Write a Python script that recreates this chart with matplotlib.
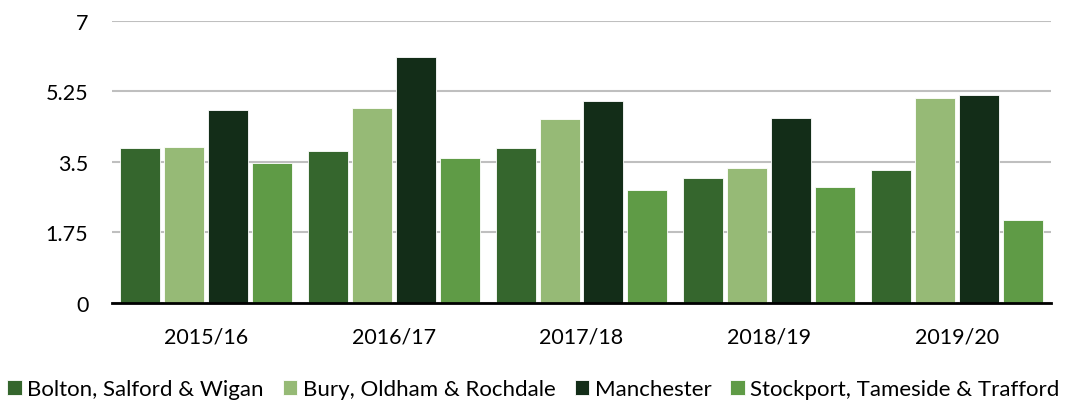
import matplotlib
matplotlib.use("Agg")
import matplotlib.pyplot as plt
import numpy as np

plt.rcParams['font.family'] = ['Lato', 'DejaVu Sans']

years = ['2015/16', '2016/17', '2017/18', '2018/19', '2019/20']
bolton = [3.84, 3.76, 3.84, 3.10, 3.31]
bury = [3.87, 4.84, 4.56, 3.34, 5.08]
manchester = [4.78, 6.09, 5.00, 4.59, 5.17]
stockport = [3.46, 3.60, 2.81, 2.88, 2.06]

series = [
    ('Bolton, Salford & Wigan', bolton, '#35662D'),
    ('Bury, Oldham & Rochdale', bury, '#96BA76'),
    ('Manchester', manchester, '#132D18'),
    ('Stockport, Tameside & Trafford', stockport, '#5F9B46'),
]

fig = plt.figure(figsize=(10.67, 4.02), dpi=100)
ax = fig.add_axes([112/1067, 1 - 304/402, (1051-112)/1067, (304-21.7)/402])

x = np.arange(len(years))
w = 0.213
step = 0.234
for i, (name, vals, col) in enumerate(series):
    ax.bar(x + (i - 1.5) * step, vals, w, color=col, label=name,
           edgecolor='white', linewidth=0.6, zorder=3)

ax.set_xlim(-0.5, len(years) - 0.5)
ax.set_ylim(0, 7)
ax.set_yticks([0, 1.75, 3.5, 5.25, 7])
ax.set_yticklabels(['0', '1.75', '3.5', '5.25', '7'])
ax.set_xticks(x)
ax.set_xticklabels(years)
ax.grid(axis='y', color='#BFBFBF', linewidth=1.5, zorder=0)
for s in ['top', 'right', 'left']:
    ax.spines[s].set_visible(False)
ax.spines['bottom'].set_color('black')
ax.spines['bottom'].set_linewidth(2)
ax.spines['bottom'].set_zorder(4)
ax.tick_params(axis='both', length=0, labelsize=15.5, colors='black')
ax.tick_params(axis='y', pad=17)
ax.tick_params(axis='x', pad=17)

fig.legend(loc='center', bbox_to_anchor=(0.5, 1 - 390/402), ncol=4, frameon=False,
           fontsize=16, handlelength=0.65, handleheight=0.65, handletextpad=0.25,
           columnspacing=0.85)

fig.savefig('out.png', dpi=100)
